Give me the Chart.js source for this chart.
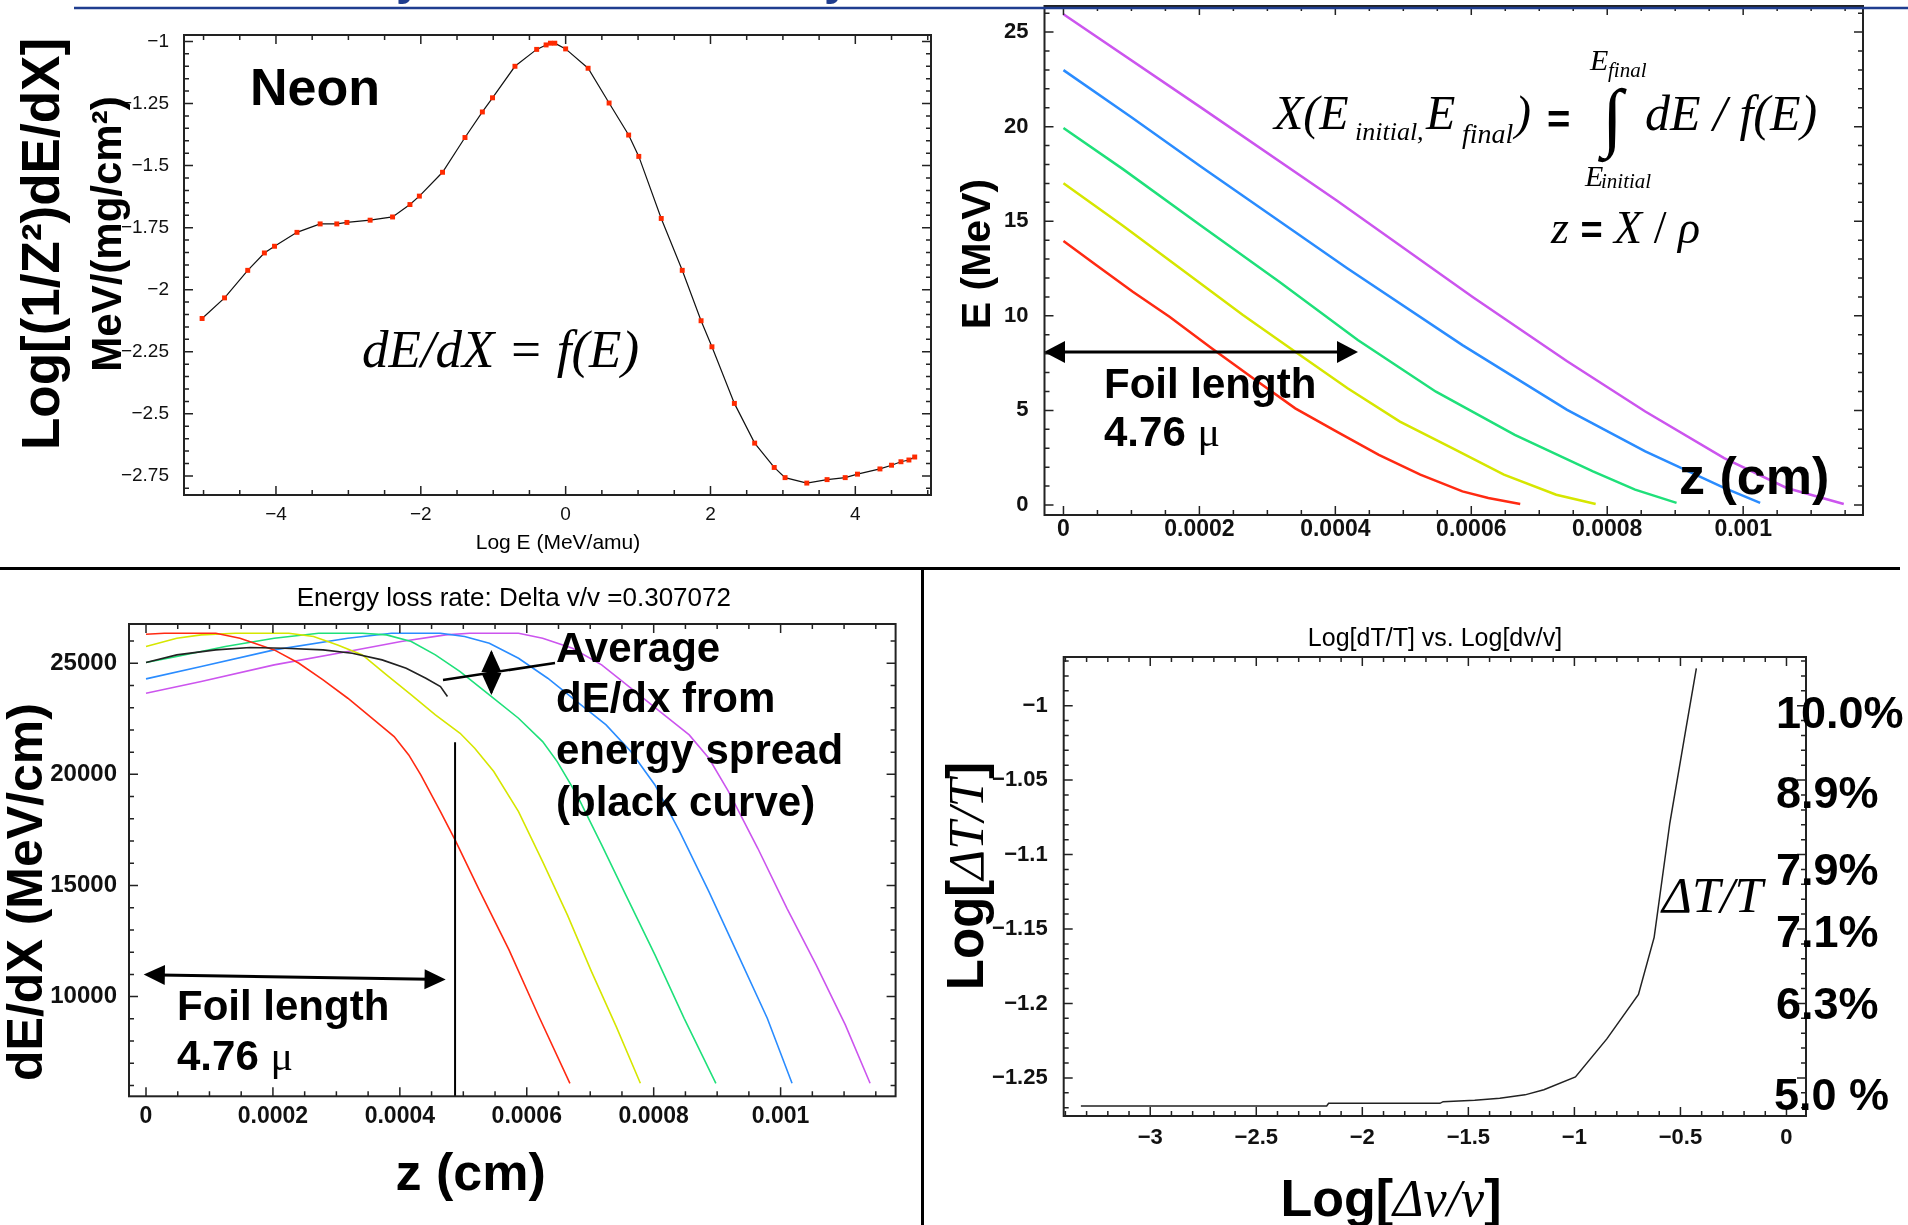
<!DOCTYPE html>
<html>
<head>
<meta charset="utf-8">
<script src="https://cdn.jsdelivr.net/npm/chart.js@4.4.1/dist/chart.umd.min.js"></script>
<style>
  html, body { margin: 0; padding: 0; background: #fff; }
  #page { position: relative; width: 1908px; height: 1225px; overflow: hidden; background: #fff; }
  canvas { position: absolute; left: 0; top: 0; }
  svg { position: absolute; left: 0; top: 0; }
  .t { position: absolute; white-space: nowrap; line-height: 1; color: #000; font-family: 'Liberation Sans', Arial, sans-serif; }
  .b { font-weight: bold; }
  .s { font-family: 'Liberation Serif', 'Times New Roman', serif; font-style: italic; }
  .up { font-style: normal; }
  .rot { transform: translate(-50%, -50%) rotate(-90deg); }
  .mid { transform: translateX(-50%); }
</style>
</head>
<body>
<div id="page">
  <canvas id="stopChart" width="1908" height="1225"></canvas>
  <canvas id="rangeChart" width="1908" height="1225"></canvas>
  <canvas id="lossChart" width="1908" height="1225"></canvas>
  <canvas id="spreadChart" width="1908" height="1225"></canvas>

  <svg width="1908" height="1225">
    <line x1="74" y1="8" x2="1908" y2="8" stroke="#1f3d8f" stroke-width="2.5"/>
    <line x1="0" y1="568.5" x2="1900" y2="568.5" stroke="#000" stroke-width="3"/>
    <line x1="922.5" y1="568" x2="922.5" y2="1225" stroke="#000" stroke-width="3"/>
    <!-- foil length arrow, top right -->
    <line x1="1060" y1="352" x2="1342" y2="352" stroke="#000" stroke-width="3"/>
    <polygon points="1044,352 1065,341 1065,363" fill="#000"/>
    <polygon points="1358,352 1337,341 1337,363" fill="#000"/>
    <!-- foil length arrow, bottom left -->
    <line x1="160" y1="974.9" x2="430" y2="979.3" stroke="#000" stroke-width="3"/>
    <polygon points="143.7,974.6 165,964.9 164.7,984.9" fill="#000"/>
    <polygon points="445.7,979.6 424.4,989.3 424.7,969.3" fill="#000"/>
    <!-- spread marker -->
    <line x1="491.4" y1="652" x2="491.4" y2="693" stroke="#000" stroke-width="2"/>
    <polygon points="491.4,650 481.4,672 501.4,672" fill="#000"/>
    <polygon points="491.4,695 481.4,673 501.4,673" fill="#000"/>
    <line x1="443" y1="680" x2="555" y2="663" stroke="#000" stroke-width="2.5"/>
  </svg>

  <!-- cut-off heading above the top rule -->
  <div class="t b" style="left:396px;top:-46px;font-size:48px;color:#1f3d8f">y</div>
  <div class="t b" style="left:824px;top:-46px;font-size:48px;color:#1f3d8f">y</div>

  <!-- top left -->
  <div class="t b" style="left:250px;top:61px;font-size:52px">Neon</div>
  <div class="t s" style="left:362px;top:323px;font-size:53px">dE/dX = f(E)</div>
  <div class="t mid" style="left:558px;top:531px;font-size:21px">Log E (MeV/amu)</div>
  <div class="t b rot" style="left:39.6px;top:243.5px;font-size:53px">Log[(1/Z²)dE/dX]</div>
  <div class="t b rot" style="left:106.5px;top:233.5px;font-size:42px">MeV/(mg/cm²)</div>

  <!-- top right -->
  <div class="t b rot" style="left:975.8px;top:253.5px;font-size:41px">E (MeV)</div>
  <div class="t s" style="left:1274px;top:89px;font-size:48px">X(E</div>
  <div class="t s" style="left:1355px;top:119px;font-size:26px">initial,</div>
  <div class="t s" style="left:1426px;top:89px;font-size:48px">E</div>
  <div class="t s" style="left:1462px;top:119.5px;font-size:28px">final</div>
  <div class="t s" style="left:1515px;top:89px;font-size:48px">)</div>
  <div class="t b" style="left:1547px;top:99px;font-size:40px">=</div>
  <div class="t s up" style="left:1602px;top:78px;font-size:76px">∫</div>
  <div class="t s" style="left:1645px;top:87.5px;font-size:50px">dE / f(E)</div>
  <div class="t s" style="left:1590px;top:45px;font-size:30px">E</div>
  <div class="t s" style="left:1608px;top:59.5px;font-size:21px">final</div>
  <div class="t s" style="left:1585px;top:161px;font-size:30px">E</div>
  <div class="t s" style="left:1601px;top:170.5px;font-size:21px">initial</div>
  <div class="t s" style="left:1551px;top:205px;font-size:46px">z <span class="b up" style="font-family:'Liberation Sans',Arial,sans-serif;font-size:38px">=</span> X <span class="up">/</span> ρ</div>
  <div class="t b" style="left:1104px;top:362.7px;font-size:42px">Foil length</div>
  <div class="t b" style="left:1104px;top:410.8px;font-size:42px">4.76 <span class="s up" style="font-weight:normal">μ</span></div>
  <div class="t b" style="left:1679px;top:450px;font-size:52px">z (cm)</div>

  <!-- bottom left -->
  <div class="t mid" style="left:513.8px;top:584.3px;font-size:26px">Energy loss rate: Delta v/v =0.307072</div>
  <div class="t b rot" style="left:25px;top:891.5px;font-size:50px">dE/dX (MeV/cm)</div>
  <div class="t b" style="left:395.5px;top:1146px;font-size:52px">z (cm)</div>
  <div class="t b" style="left:177px;top:985.3px;font-size:42px">Foil length</div>
  <div class="t b" style="left:177px;top:1035.3px;font-size:42px">4.76 <span class="s up" style="font-weight:normal">μ</span></div>
  <div class="t b" style="left:556px;top:627.3px;font-size:42px">Average</div>
  <div class="t b" style="left:556px;top:677.3px;font-size:42px">dE/dx from</div>
  <div class="t b" style="left:556px;top:729.3px;font-size:42px">energy spread</div>
  <div class="t b" style="left:556px;top:780.8px;font-size:42px">(black curve)</div>

  <!-- bottom right -->
  <div class="t mid" style="left:1435px;top:624.7px;font-size:25px">Log[dT/T] vs. Log[dv/v]</div>
  <div class="t s" style="left:1662px;top:870.3px;font-size:51px">ΔT/T</div>
  <div class="t b" style="left:1776px;top:690px;font-size:45px">10.0%</div>
  <div class="t b" style="left:1776px;top:770px;font-size:45px">8.9%</div>
  <div class="t b" style="left:1776px;top:846.7px;font-size:45px">7.9%</div>
  <div class="t b" style="left:1776px;top:908.8px;font-size:45px">7.1%</div>
  <div class="t b" style="left:1776px;top:980.5px;font-size:45px">6.3%</div>
  <div class="t b" style="left:1774px;top:1071.8px;font-size:45px">5.0 %</div>
  <div class="t b rot" style="left:965.7px;top:876px;font-size:51px">Log[<span class="s" style="font-weight:normal">ΔT/T</span>]</div>
  <div class="t b mid" style="left:1391px;top:1171.5px;font-size:52px">Log[<span class="s" style="font-weight:normal">Δv/v</span>]</div>
</div>

<script>
// ---- top left: neon stopping power ----
const neonLogE = [-5.02, -4.71, -4.39, -4.16, -4.02, -3.71, -3.39, -3.16, -3.02, -2.70, -2.39, -2.15, -2.02, -1.70, -1.39, -1.15, -1.01, -0.70, -0.40, -0.27, -0.21, -0.15, 0.0, 0.31, 0.60, 0.87, 1.01, 1.32, 1.61, 1.87, 2.02, 2.33, 2.61, 2.88, 3.03, 3.33, 3.61, 3.86, 4.03, 4.34, 4.50, 4.63, 4.74, 4.82];
const neonLogStop = [-2.116, -2.033, -1.922, -1.852, -1.825, -1.769, -1.735, -1.735, -1.729, -1.720, -1.707, -1.657, -1.623, -1.527, -1.387, -1.284, -1.227, -1.100, -1.032, -1.014, -1.007, -1.007, -1.030, -1.108, -1.248, -1.377, -1.463, -1.713, -1.922, -2.125, -2.230, -2.458, -2.618, -2.716, -2.757, -2.779, -2.765, -2.757, -2.743, -2.722, -2.707, -2.693, -2.686, -2.674];

// ---- top right: energy vs depth ----
const rangeZRed = [0, 0.0000485, 0.000102, 0.000156, 0.000218, 0.000279, 0.000341, 0.000402, 0.000464, 0.000525, 0.000587, 0.000625, 0.000672];
const rangeERed = [13.95, 12.67, 11.27, 9.95, 8.28, 6.70, 5.11, 3.88, 2.65, 1.60, 0.72, 0.37, 0.05];
const rangeZYellow = [0, 0.000087, 0.000179, 0.000264, 0.000341, 0.000418, 0.000495, 0.000572, 0.000648, 0.000725, 0.000783];
const rangeEYellow = [17.01, 14.78, 12.32, 10.04, 8.10, 6.17, 4.41, 3.01, 1.60, 0.54, 0.05];
const rangeZGreen = [0, 0.000087, 0.000202, 0.000318, 0.000433, 0.000548, 0.000664, 0.000779, 0.000841, 0.000902];
const rangeEGreen = [19.93, 17.77, 14.78, 11.79, 8.72, 5.99, 3.71, 1.78, 0.81, 0.11];
const rangeZBlue = [0, 0.000100, 0.000202, 0.000418, 0.000587, 0.000741, 0.000856, 0.000972, 0.001025];
const rangeEBlue = [22.99, 20.5, 17.9, 12.5, 8.45, 5.03, 2.83, 0.90, 0.11];
const rangeZMagenta = [0, 0.000202, 0.000402, 0.000602, 0.000741, 0.000856, 0.000972, 0.001064, 0.001148];
const rangeEMagenta = [25.94, 21.02, 16.1, 11.0, 7.6, 4.94, 2.48, 0.90, 0.05];

// ---- bottom left: dE/dx vs depth ----
const lossZRed = [0, 0.000029, 0.000110, 0.000148, 0.000202, 0.000241, 0.000279, 0.000318, 0.000356, 0.000391, 0.000414, 0.000433, 0.000464, 0.000487, 0.000525, 0.000572, 0.000618, 0.000668];
const lossRed = [26305, 26350, 26350, 26125, 25600, 25000, 24250, 23425, 22525, 21700, 20875, 19975, 18325, 17050, 14800, 12100, 9175, 6100];
const lossZYellow = [0, 0.0000485, 0.000087, 0.000141, 0.000225, 0.000264, 0.000302, 0.000341, 0.000379, 0.000418, 0.000456, 0.000495, 0.000518, 0.000548, 0.000587, 0.000625, 0.000664, 0.000702, 0.000741, 0.000779];
const lossYellow = [25750, 26125, 26275, 26350, 26350, 26200, 25825, 25375, 24475, 23575, 22675, 21850, 21175, 20125, 18325, 16075, 13675, 11125, 8650, 6100];
const lossZGreen = [0, 0.0000485, 0.000125, 0.000202, 0.000272, 0.000341, 0.000379, 0.000418, 0.000456, 0.000495, 0.000541, 0.000587, 0.000625, 0.000648, 0.000679, 0.000718, 0.000756, 0.000802, 0.000848, 0.000898];
const lossGreen = [25030, 25300, 25750, 26125, 26350, 26350, 26275, 25975, 25375, 24625, 23575, 22525, 21475, 20575, 19075, 16825, 14575, 11875, 9025, 6100];
const lossZBlue = [0, 0.000087, 0.000202, 0.000318, 0.000387, 0.000464, 0.000502, 0.000541, 0.000587, 0.000633, 0.000679, 0.000725, 0.000764, 0.000802, 0.000841, 0.000887, 0.000933, 0.000979, 0.001018];
const lossBlue = [24295, 24850, 25600, 26125, 26350, 26350, 26200, 25900, 25225, 24325, 23275, 22225, 21025, 19525, 17425, 14725, 11875, 9025, 6100];
const lossZMagenta = [0, 0.000087, 0.000202, 0.000318, 0.000402, 0.000472, 0.000510, 0.000587, 0.000625, 0.000672, 0.000718, 0.000764, 0.000810, 0.000856, 0.000887, 0.000918, 0.000964, 0.001010, 0.001056, 0.001102, 0.001141];
const lossMagenta = [23650, 24175, 24925, 25525, 25975, 26275, 26350, 26350, 26125, 25675, 24925, 23875, 22825, 21775, 20725, 19225, 16675, 13975, 11425, 8725, 6100];
const lossZBlack = [0, 0.0000485, 0.000110, 0.000164, 0.000218, 0.000279, 0.000325, 0.000372, 0.000410, 0.000441, 0.000464, 0.000475];
const lossBlack = [25030, 25375, 25600, 25705, 25675, 25600, 25450, 25150, 24775, 24325, 23950, 23500];
const foilEndZ = [0.000487, 0.000487];
const foilEndLoss = [21445, 5515];

// ---- bottom right: dT/T vs dv/v ----
const spreadLogDv = [-3.327, -2.168, -2.159, -1.634, -1.619, -1.470, -1.352, -1.233, -1.144, -0.995, -0.847, -0.698, -0.624, -0.550, -0.475, -0.425];
const spreadLogDT = [-1.2688, -1.2688, -1.2671, -1.2671, -1.2660, -1.2651, -1.2637, -1.2614, -1.2580, -1.2494, -1.2238, -1.1940, -1.1556, -1.0788, -1.0162, -0.9750];

const lineColors = ['#ff2a12', '#d6e600', '#1fe07a', '#2a8cff', '#cc55ee'];

Chart.defaults.font.family = "'Liberation Sans', Arial, sans-serif";
Chart.defaults.animation = false;

const pts = (xs, ys) => xs.map((x, i) => ({ x: x, y: ys[i] }));
const curve = (xs, ys, color, w) => ({
  data: pts(xs, ys), showLine: true, borderColor: color, borderWidth: w,
  pointRadius: 0, fill: false, tension: 0
});

// mathematica style labels: real minus sign, no trailing zeros
const fmt = v => {
  const r = +Number(v).toPrecision(6);
  return (r < 0 ? '\u2212' : '') + Math.abs(r).toString();
};

// frame with inward major/minor ticks on all four sides
const innerTicks = {
  id: 'innerTicks',
  afterDraw(chart, args, opts) {
    const { ctx, chartArea: a } = chart;
    const xs = chart.scales.x, ys = chart.scales.y;
    const each = (scale, step, fn) => {
      const n0 = Math.ceil(scale.min / step - 1e-9);
      const n1 = Math.floor(scale.max / step + 1e-9);
      for (let n = n0; n <= n1; n++) fn(scale.getPixelForValue(n * step));
    };
    const tx = (p, len) => { ctx.moveTo(p, a.bottom); ctx.lineTo(p, a.bottom - len); ctx.moveTo(p, a.top); ctx.lineTo(p, a.top + len); };
    const ty = (p, len) => { ctx.moveTo(a.left, p); ctx.lineTo(a.left + len, p); ctx.moveTo(a.right, p); ctx.lineTo(a.right - len, p); };
    ctx.save();
    ctx.strokeStyle = '#222';
    ctx.lineWidth = 1.5;
    ctx.beginPath();
    each(xs, opts.minorX, p => tx(p, 5));
    each(ys, opts.minorY, p => ty(p, 5));
    xs.ticks.forEach(t => tx(xs.getPixelForValue(t.value), 9));
    ys.ticks.forEach(t => ty(ys.getPixelForValue(t.value), 9));
    ctx.stroke();
    ctx.lineWidth = 2;
    ctx.strokeRect(a.left, a.top, a.right - a.left, a.bottom - a.top);
    ctx.restore();
  }
};

const AXW = 100, AXH = 50;
function axis(pos, min, max, step, font, pad) {
  return {
    type: 'linear', position: pos, min: min, max: max,
    grid: { display: false, drawTicks: false },
    border: { display: false },
    ticks: { autoSkip: false, maxRotation: 0, font: font, padding: pad, color: '#111', callback: v => fmt(v) },
    // ticks on whole multiples of the step, inside the range
    afterBuildTicks(s) {
      const out = [];
      const n0 = Math.ceil(s.min / step - 1e-9), n1 = Math.floor(s.max / step + 1e-9);
      for (let n = n0; n <= n1; n++) out.push({ value: +(n * step).toPrecision(10) });
      s.ticks = out;
    },
    afterFit(s) {
      if (pos === 'bottom') s.height = AXH; else s.width = AXW;
      s.paddingTop = 0; s.paddingBottom = 0; s.paddingLeft = 0; s.paddingRight = 0;
    }
  };
}

// box = frame edges in page pixels
function frame(box) {
  return { padding: { left: box[0] - AXW, top: box[1], right: 1908 - box[2], bottom: 1225 - box[3] - AXH } };
}

function makeChart(id, box, xAxis, yAxis, minorX, minorY, datasets) {
  return new Chart(document.getElementById(id), {
    type: 'scatter',
    data: { datasets: datasets },
    options: {
      responsive: false, devicePixelRatio: 1, events: [],
      layout: frame(box),
      scales: { x: xAxis, y: yAxis },
      plugins: { legend: { display: false }, tooltip: { enabled: false }, innerTicks: { minorX: minorX, minorY: minorY } }
    },
    plugins: [innerTicks]
  });
}

// ************************ top left ************************
makeChart('stopChart', [184, 35, 931, 495],
  axis('bottom', -5.27, 5.045, 2, { size: 19 }, 8),
  axis('left', -2.827, -0.974, 0.25, { size: 19 }, 15),
  0.5, 0.05,
  [
    { data: pts(neonLogE, neonLogStop), showLine: false, pointStyle: 'rect', pointRadius: 3.5,
      backgroundColor: '#ff2a00', borderWidth: 0 },
    curve(neonLogE, neonLogStop, '#111', 1.2)
  ]);

// ************************ top right ************************
makeChart('rangeChart', [1044.5, 6, 1863, 515],
  axis('bottom', -0.0000279, 0.0011763, 0.0002, { size: 23, weight: 'bold' }, 1),
  axis('left', -0.53, 26.38, 5, { size: 22, weight: 'bold' }, 16),
  0.00005, 1,
  [
    curve(rangeZRed, rangeERed, lineColors[0], 2.5),
    curve(rangeZYellow, rangeEYellow, lineColors[1], 2.5),
    curve(rangeZGreen, rangeEGreen, lineColors[2], 2.5),
    curve(rangeZBlue, rangeEBlue, lineColors[3], 2.5),
    curve(rangeZMagenta, rangeEMagenta, lineColors[4], 2.5)
  ]);

// ************************ bottom left ************************
makeChart('lossChart', [129, 624, 895.6, 1096.3],
  axis('bottom', -0.0000268, 0.0011812, 0.0002, { size: 23, weight: 'bold' }, 7),
  axis('left', 5515, 26765, 5000, { size: 24, weight: 'bold' }, 12),
  0.00005, 1000,
  [
    curve(foilEndZ, foilEndLoss, '#000', 2),
    curve(lossZBlack, lossBlack, '#222', 1.6),
    curve(lossZRed, lossRed, lineColors[0], 1.6),
    curve(lossZYellow, lossYellow, lineColors[1], 1.6),
    curve(lossZGreen, lossGreen, lineColors[2], 1.6),
    curve(lossZBlue, lossBlue, lineColors[3], 1.6),
    curve(lossZMagenta, lossMagenta, lineColors[4], 1.6)
  ]);

// ************************ bottom right ************************
makeChart('spreadChart', [1063.7, 657, 1806, 1116],
  axis('bottom', -3.408, 0.092, 0.5, { size: 22, weight: 'bold' }, 9),
  axis('left', -1.2756, -0.9673, 0.05, { size: 22, weight: 'bold' }, 16),
  0.1, 0.01,
  [ curve(spreadLogDv, spreadLogDT, '#222', 1.5) ]);
</script>
</body>
</html>
